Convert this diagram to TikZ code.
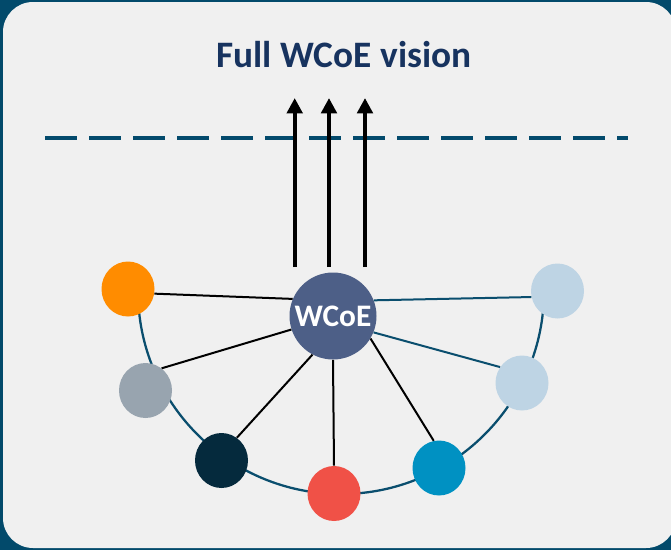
\documentclass[tikz,border=0pt]{standalone}
\usepackage{fontspec}
\setmainfont{Carlito}
\usetikzlibrary{arrows.meta,shapes.geometric}
\definecolor{frame}{HTML}{024A6B}
\definecolor{panel}{HTML}{F0F0F0}
\definecolor{titlecol}{HTML}{17335F}
\definecolor{dashcol}{HTML}{034A6C}
\definecolor{hubcol}{HTML}{4D5F87}
\definecolor{corange}{HTML}{FF8C00}
\definecolor{cgray}{HTML}{98A4AF}
\definecolor{cnavy}{HTML}{052A3D}
\definecolor{cred}{HTML}{F05147}
\definecolor{cblue}{HTML}{0091C2}
\definecolor{clight}{HTML}{BED4E4}
\definecolor{tealline}{HTML}{0A4E6E}
\begin{document}
\begin{tikzpicture}[x=0.75pt,y=-0.75pt,
  dot/.style={ellipse,minimum width=39.75pt,minimum height=41.25pt,inner sep=0pt,draw=none},
  hub/.style={circle,minimum size=65.25pt,inner sep=0pt,fill=hubcol,text=white,font=\fontsize{23.5pt}{27pt}\selectfont\bfseries},
  titletext/.style={text=titlecol,font=\fontsize{28pt}{33pt}\selectfont\bfseries,inner sep=0pt},
  spoke/.style={line width=1.5pt,black},
  tspoke/.style={line width=1.5pt,tealline},
  ring/.style={line width=1.7pt,tealline},
  dashline/.style={line width=3pt,dashcol,dash pattern=on 24pt off 9pt},
  uparrow/.style={line width=3pt,black,-{Triangle[length=11.6pt,width=11.6pt]}}]
\fill[frame] (0,0) rectangle (671,550);
\useasboundingbox (0,0) rectangle (671,550);
\fill[panel,rounded corners=22.5pt] (3,2) rectangle (676,548);
\node[titletext,anchor=base] (title) at (344,67) {Full WCoE vision};
\draw[dashline] (45,138) -- (628,138);
\coordinate (a1s) at (294.7,267);
\coordinate (a1e) at (294.7,98);
\coordinate (a2s) at (329,267);
\coordinate (a2e) at (329,98);
\coordinate (a3s) at (365,267);
\coordinate (a3e) at (365,98);
\draw[uparrow] (a1s) -- (a1e);
\draw[uparrow] (a2s) -- (a2e);
\draw[uparrow] (a3s) -- (a3e);
\draw[ring] (138,291) arc[start angle=180,end angle=0,radius=203];
\node[dot,fill=corange] (o) at (128,289) {};
\node[dot,fill=cgray] (g) at (145.5,390.5) {};
\node[dot,fill=cnavy] (n) at (221.5,460.5) {};
\node[dot,fill=cred] (r) at (334,493.5) {};
\node[dot,fill=cblue] (b) at (439,468) {};
\node[dot,fill=clight] (l2) at (522,383) {};
\node[dot,fill=clight] (l1) at (557.5,291) {};
\node[hub] (h) at (333,316) {WCoE};
\draw[spoke] (o.-10) -- (h.157);
\draw[spoke] (g.54) -- (h.198);
\draw[spoke] (n.56) -- (h.242);
\draw[spoke] (r.90) -- (h.270);
\draw[spoke] (b.101) -- (h.329);
\draw[tspoke] (l2.144) -- (h.338);
\draw[tspoke] (l1.193) -- (h.21.5);
\end{tikzpicture}
\end{document}
